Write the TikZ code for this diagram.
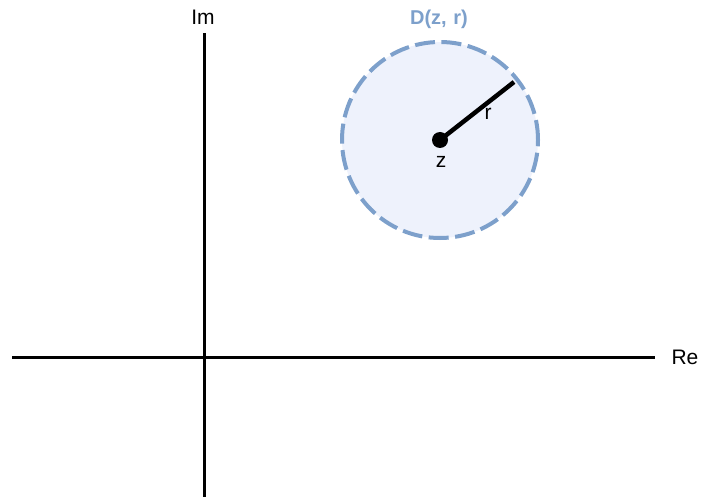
\documentclass[tikz,border=0pt]{standalone}
\usepackage{fontspec}
\setmainfont{Liberation Sans}
\definecolor{diskfill}{HTML}{EEF2FC}
\definecolor{diskline}{HTML}{7DA0CB}
\begin{document}
\begin{tikzpicture}[x=1pt,y=-1pt,
  axis/.style={line width=3pt,black},
  lbl/.style={font=\fontsize{21}{23}\selectfont,inner sep=0pt},
  disk/.style={fill=diskfill,draw=diskline,line width=4pt,dash pattern=on 20pt off 6.5pt}]
\useasboundingbox (0,0) rectangle (701,497);
\coordinate (yb) at (204,497);
\coordinate (yt) at (204,33);
\coordinate (xl) at (12,357);
\coordinate (xr) at (655,357);
\draw[axis] (xl) -- (xr);
\draw[axis] (yb) -- (yt);
\node[lbl] (im) at (203,17) {Im};
\node[lbl] (re) at (685,357) {Re};
\node[disk,circle,minimum size=196pt,inner sep=0pt] (d) at (440,140) {};
\node[lbl,text=diskline,font=\fontsize{20}{22}\selectfont\bfseries] (dl) at (439,19) {D(z,\,\,r)};
\coordinate (c) at (440,140);
\coordinate (e) at (514,82);
\draw[line width=4.5pt] (c) -- (e);
\fill (c) circle (8pt);
\node[lbl] (r) at (488,114) {r};
\node[lbl] (z) at (441,162) {z};
\end{tikzpicture}
\end{document}
